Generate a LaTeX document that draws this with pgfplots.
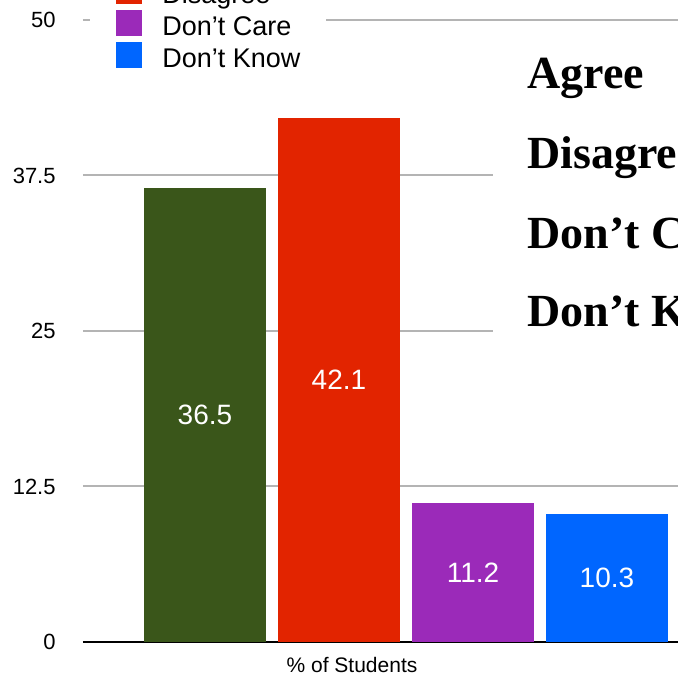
\documentclass[border=0pt]{standalone}
\usepackage{fontspec}
\setmainfont{Liberation Sans}
\newfontfamily\serifbold{Liberation Serif}
\usepackage{pgfplots}
\pgfplotsset{compat=1.18}
\definecolor{cAgree}{HTML}{3A561A}
\definecolor{cDis}{HTML}{E22400}
\definecolor{cCare}{HTML}{9B2AB9}
\definecolor{cKnow}{HTML}{0066FF}
\definecolor{cGrid}{HTML}{B4B4B4}
\pgfplotsset{sqleg/.style={legend image code/.code={\path[use as bounding box] (0pt,0pt) rectangle (13pt,6pt);\fill[##1] (0pt,-3.5pt) rectangle (13pt,9.5pt);}}}
\begin{document}
\begin{tikzpicture}
\begin{axis}[
  name=ax,
  scale only axis, width=308.5pt, height=311pt,
  xmin=-0.910, xmax=3.694, ymin=0, ymax=50,
  clip=false,
  /pgf/number format/assume math mode=true,
  ybar, bar shift=0pt, bar width=61pt,
  axis x line=bottom, axis y line=left,
  axis line style={-},
  x axis line style={black, line width=1.2pt},
  y axis line style={draw=none},
  xtick=\empty,
  ytick={0,12.5,25,37.5,50},
  major tick length=0pt,
  ymajorgrids, grid style={cGrid, line width=1pt},
  yticklabel style={anchor=east, inner sep=0pt, xshift=-13.5pt, font=\fontsize{11}{13}\selectfont},
  xlabel={\% of Students},
  xlabel style={at={(rel axis cs:0.436,0)}, anchor=base, yshift=-15.5pt, font=\fontsize{10.5}{12}\selectfont},
  visualization depends on=rawy\as\rawy,
  nodes near coords,
  every node near coord/.append style={shift={(axis direction cs:0,-\rawy/2)}, anchor=center, text=white, font=\fontsize{14}{16}\selectfont},
  legend cell align=left,
  legend style={at={(rel axis cs:0.01135,0.9003)}, anchor=south west, fill=white, draw=none,
    inner xsep=13pt, inner ysep=4pt, column sep=10pt, row sep=3pt,
    font=\fontsize{13.5}{16}\selectfont,
    nodes={inner sep=0pt, text height=10pt, text depth=3pt}},
]
\addplot[fill=cAgree, draw=none, sqleg] coordinates {(0,36.5)};
\addlegendentry{Agree}
\addplot[fill=cDis, draw=none, sqleg] coordinates {(1,42.1)};
\addlegendentry{Disagree}
\addplot[fill=cCare, draw=none, sqleg] coordinates {(2,11.2)};
\addlegendentry{Don’t Care}
\addplot[fill=cKnow, draw=none, sqleg] coordinates {(3,10.3)};
\addlegendentry{Don’t Know}
\fill[white] (axis cs:2.149,23.1) rectangle (axis cs:4.5,48.6);
\begin{scope}[every node/.style={anchor=base west, inner sep=0pt, font=\serifbold\bfseries\fontsize{23}{28}\selectfont}]
\node at (axis cs:2.403,44.53) {Agree};
\node at (axis cs:2.403,38.10) {Disagree};
\node at (axis cs:2.403,31.67) {Don’t Care};
\node at (axis cs:2.403,25.32) {Don’t Know};
\end{scope}
\end{axis}
\pgfresetboundingbox
\path[use as bounding box] ([xshift=-41.5pt,yshift=-17pt]ax.south west) rectangle ([xshift=-11pt,yshift=10pt]ax.north east);
\end{tikzpicture}
\end{document}
